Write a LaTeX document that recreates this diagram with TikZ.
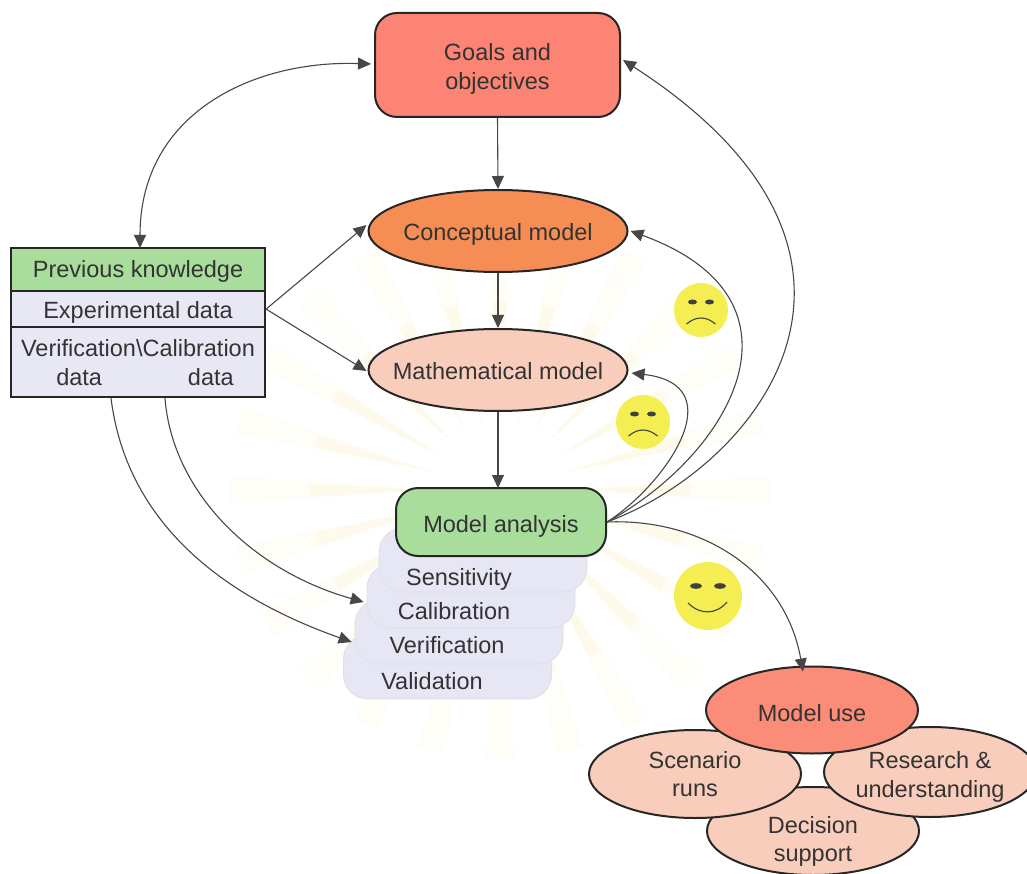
\documentclass[tikz,border=0pt]{standalone}
\usepackage{fontspec}
\setmainfont{Liberation Sans}
\usetikzlibrary{shapes.geometric,arrows.meta}
\definecolor{inkc}{HTML}{333333}
\definecolor{goalc}{HTML}{FB8474}
\definecolor{concc}{HTML}{F68D54}
\definecolor{mathc}{HTML}{F9CDBC}
\definecolor{greenc}{HTML}{A9DD9C}
\definecolor{lilac}{HTML}{E8E8F5}
\definecolor{stackc}{HTML}{E6E6F4}
\definecolor{usec}{HTML}{FB8D78}
\definecolor{yelc}{HTML}{F4EE52}
\definecolor{rayc}{HTML}{FDFAEC}
\definecolor{rayd}{HTML}{FEFDF7}
\tikzset{
  every node/.style={font=\fontsize{23.5}{28.5}\selectfont, text=inkc, align=center},
  rbox/.style={draw=black!85, line width=2pt, rounded corners=22pt, inner sep=0pt},
  oval/.style={ellipse, draw=black!85, line width=2pt, inner sep=0pt},
  tbl/.style={draw=black!85, line width=2.2pt, rectangle, minimum width=254pt, inner sep=0pt, anchor=north},
  stackbox/.style={fill=stackc, draw=black!12, line width=.8pt, rounded corners=24pt, minimum width=208pt, minimum height=64pt, inner sep=0pt},
  conn/.style={draw=black!72, line width=1.1pt, -{Triangle[length=13pt,width=12pt]}},
  twoway/.style={draw=black!72, line width=1.1pt, {Triangle[length=13pt,width=12pt]}-{Triangle[length=13pt,width=12pt]}},
  face/.style={circle, fill=yelc, inner sep=0pt},
  cap/.style 2 args={label={[yshift=#1]center:#2}},
}
\begin{document}
\begin{tikzpicture}[x=1pt,y=-1pt]
\useasboundingbox (0,0) rectangle (1027,874);
\fill[white] (0,0) rectangle (1027,874);
% faint watermark rays
\foreach \a in {0,15,...,345}{
  \fill[rayd] (500,490) ++(\a:70) -- ([shift={(\a-3:270)}]500,490) -- ([shift={(\a+3:270)}]500,490) -- cycle;
  \fill[rayc] (500,490) ++(\a:70) -- ([shift={(\a-2:190)}]500,490) -- ([shift={(\a+2:190)}]500,490) -- cycle;
}
% stack
\node[stackbox] (vali) at (447.5,667) {};
\node[stackbox] (veri) at (459,632) {};
\node[stackbox] (cali) at (471,596) {};
\node[stackbox] (sens) at (483,560) {};
% main boxes
\node[rbox, fill=goalc, minimum width=245pt, minimum height=104pt, cap={-4pt}{Goals and\\objectives}] (goals) at (497.5,65) {};
\node[oval, fill=concc, minimum width=259pt, minimum height=82pt, cap={-3pt}{Conceptual model}] (concept) at (498,231) {};
\node[oval, fill=mathc, minimum width=259pt, minimum height=82pt, cap={-1pt}{Mathematical model}] (mathm) at (498,370) {};
\node[rbox, fill=greenc, minimum width=210pt, minimum height=68pt, cap={-4pt}{Model analysis}] (analysis) at (501,522) {};
% stack labels
\node (senst) at (459,579) {Sensitivity};
\node (calit) at (454,611) {Calibration};
\node (verit) at (447,645) {Verification};
\node (valit) at (432,681) {Validation};
% left table
\node[tbl, fill=greenc, minimum height=43pt, cap={-2pt}{Previous knowledge}] (prev) at (138,247) {};
\node[tbl, fill=lilac, minimum height=36pt, cap={-3pt}{Experimental data}] (expd) at (138,290) {};
\node[tbl, fill=lilac, minimum height=70pt, label={[yshift=-.5pt,xshift=0pt]center:Verification\textbackslash Calibration\\\hspace{14pt}data\hspace{86pt}data}] (verd) at (138,326) {};
% model use cluster
\node[oval, fill=mathc, minimum width=212pt, minimum height=88pt] (decision) at (813,831) {};
\node[oval, fill=mathc, minimum width=212pt, minimum height=88pt, cap={0pt}{Scenario\\runs}] (scenario) at (695,774) {};
\node[oval, fill=mathc, minimum width=212pt, minimum height=90pt, cap={-5pt}{Research \&\\understanding}] (research) at (930,772) {};
\node[oval, fill=usec, minimum width=212pt, minimum height=87pt, cap={-3pt}{Model use}] (use) at (812,710) {};
\node (dect) at (813,841.5) {Decision\\support};
% faces
\node[face, minimum size=54pt] (sad1) at (701,310) {};
\node[face, minimum size=54pt] (sad2) at (643,422) {};
\node[face, minimum size=68pt] (happy) at (708,596) {};
\foreach \f in {sad1, sad2}{
  \fill[black!75] ([shift={(-8.5,-8)}]\f.center) ellipse (4.5 and 2.5);
  \fill[black!75] ([shift={(8.5,-8)}]\f.center) ellipse (4.5 and 2.5);
  \draw[black!75, line width=1.1pt] ([shift={(-14.5,14)}]\f.center) .. controls ([shift={(-5,6)}]\f.center) and ([shift={(5,6)}]\f.center) .. ([shift={(14.5,14)}]\f.center);
}
\fill[black!75] ([shift={(-12,-10)}]happy.center) ellipse (6 and 2.8);
\fill[black!75] ([shift={(12,-10)}]happy.center) ellipse (6 and 2.8);
\draw[black!75, line width=1.1pt] ([shift={(-20,7)}]happy.center) .. controls ([shift={(-8,19)}]happy.center) and ([shift={(8,19)}]happy.center) .. ([shift={(19,6)}]happy.center);
% connectors
\draw[conn] (goals.south) -- (concept.north);
\draw[conn] (concept.south) -- (mathm.north);
\draw[conn] (mathm.south) -- ([yshift=-1pt]analysis.north -| mathm.south);
\draw[twoway] ([xshift=-3pt,yshift=1pt]goals.west) .. controls (255,60) and (140,112) .. ([xshift=2pt,yshift=-1pt]prev.north);
\draw[conn] (expd.east) -- ([xshift=-1pt,yshift=6pt]concept.west);
\draw[conn] (expd.east) -- ([xshift=-1pt,yshift=-1pt]mathm.west);
\draw[conn] ([xshift=-27pt]verd.south) .. controls (125,510) and (205,590) .. ([xshift=-3pt,yshift=-10pt]veri.west);
\draw[conn] ([xshift=27pt]verd.south) .. controls (172,490) and (250,570) .. ([xshift=-3pt,yshift=-6pt]cali.west);
\draw[conn] (analysis.east) .. controls (665,485) and (735,385) .. ([xshift=3pt,yshift=-3pt]mathm.east);
\draw[conn] (analysis.east) .. controls (730,455) and (820,300) .. ([xshift=2pt]concept.east);
\draw[conn] (analysis.east) .. controls (760,465) and (925,255) .. ([xshift=2pt,yshift=5pt]goals.east);
\draw[conn] (analysis.east) .. controls (700,518) and (785,570) .. ([yshift=-6pt,xshift=-9pt]use.north);
\end{tikzpicture}
\end{document}
